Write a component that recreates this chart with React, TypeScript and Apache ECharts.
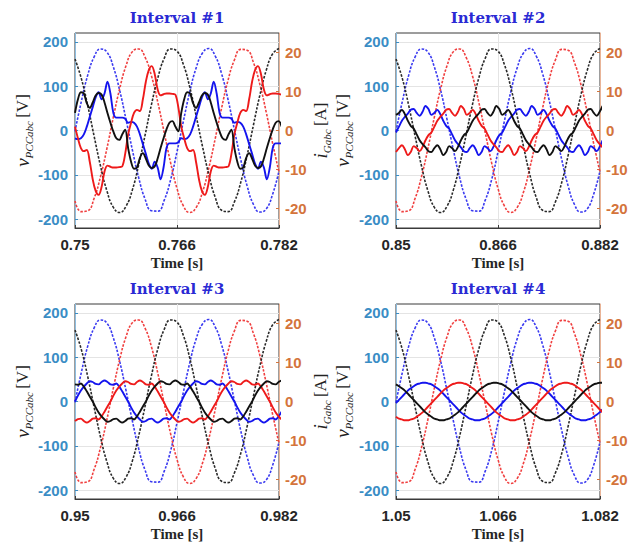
import React, { useEffect, useRef } from 'react';
import * as echarts from 'echarts';

// ---------- data ----------
const panelStarts = [0.75, 0.85, 0.95, 1.05];
const panelTitles = ['Interval #1', 'Interval #2', 'Interval #3', 'Interval #4'];
const xTickValues = [
  [0.75, 0.766, 0.782],
  [0.85, 0.866, 0.882],
  [0.95, 0.966, 0.982],
  [1.05, 1.066, 1.082],
];
const vTicks = [-200, -100, 0, 100, 200];
const iTicks = [-20, -10, 0, 10, 20];

// voltage samples, every 1 ms from the start of each interval (same in all intervals)
const tv_ms = [0, 1, 2, 3, 4, 5, 6, 7, 8, 9, 10, 11, 12, 13, 14, 15, 16, 17, 18, 19, 20, 21, 22, 23, 24, 25, 26, 27, 28, 29, 30, 31, 32];
const vBlue = [-2, 66, 125, 166, 184, 177, 144, 91, 25, -44, -107, -155, -181, -182, -157, -111, -48, 21, 87, 141, 175, 185, 168, 128, 70, 2, -66, -125, -167, -184, -177, -144, -91];
const vRed = [-159, -183, -181, -153, -104, -41, 29, 94, 146, 178, 184, 165, 123, 63, -5, -73, -131, -170, -185, -174, -139, -84, -18, 51, 113, 159, 183, 181, 153, 104, 41, -29, -94];
const vBlack = [161, 117, 56, -13, -80, -136, -173, -185, -171, -134, -77, -10, 59, 119, 163, 184, 179, 149, 98, 33, -36, -100, -151, -180, -183, -161, -117, -56, 13, 80, 136, 173, 185];

// current samples (ms from the start of each interval)
const ti_ms = [0, 0.463, 0.926, 1.389, 1.852, 2.315, 2.778, 3.241, 3.704, 4.167, 4.63, 5.093, 5.556, 6.019, 6.481, 6.944, 7.407, 7.87, 8.333, 8.796, 9.259, 9.722, 10.185, 10.648, 11.111, 11.574, 12.037, 12.5, 12.963, 13.426, 13.889, 14.352, 14.815, 15.278, 15.741, 16.204, 16.667, 17.13, 17.593, 18.056, 18.519, 18.981, 19.444, 19.907, 20.37, 20.833, 21.296, 21.759, 22.222, 22.685, 23.148, 23.611, 24.074, 24.537, 25, 25.463, 25.926, 26.389, 26.852, 27.315, 27.778, 28.241, 28.704, 29.167, 29.63, 30.093, 30.556, 31.019, 31.481, 31.944, 32.407];

const iBlue1 = [-2.0, -2.2, -2.0, -1.0, 1.0, 3.5, 6.0, 8.5, 9.8, 8.0, 9.5, 12.5, 9.5, 4.5, 3.3, 3.3, 3.3, 3.0, 2.0, 2.2, 2.0, 1.0, -1.0, -3.5, -6.0, -8.5, -9.8, -8.0, -9.5, -12.5, -9.5, -4.5, -3.3, -3.3, -3.3, -3.0,
  -2.0, -2.2, -2.0, -1.0, 1.0, 3.5, 6.0, 8.5, 9.8, 8.0, 9.5, 12.5, 9.5, 4.5, 3.3, 3.3, 3.3, 3.0, 2.0, 2.2, 2.0, 1.0, -1.0, -3.5, -6.0, -8.5, -9.8, -8.0, -9.5, -12.5, -9.5, -4.5, -3.3, -3.3, -3.3];
const iRed1 = [1.0, -2.0, -4.5, -5.3, -5.0, -8.0, -12.5, -15.5, -16.5, -14.5, -10.5, -9.0, -9.3, -9.5, -9.5, -9.4, -9.2, -6.0, -1.0, 2.0, 4.5, 5.3, 5.0, 8.0, 12.5, 15.5, 16.5, 14.5, 10.5, 9.0, 9.3, 9.5, 9.5, 9.4, 9.2, 6.0,
  1.0, -2.0, -4.5, -5.3, -5.0, -8.0, -12.5, -15.5, -16.5, -14.5, -10.5, -9.0, -9.3, -9.5, -9.5, -9.4, -9.2, -6.0, -1.0, 2.0, 4.5, 5.3, 5.0, 8.0, 12.5, 15.5, 16.5, 14.5, 10.5, 9.0, 9.3, 9.5, 9.5, 9.4, 9.2];
const iBlack1 = [4.5, 8.0, 9.8, 9.5, 7.0, 5.8, 7.2, 9.0, 9.6, 9.2, 7.2, 4.5, 2.0, -0.3, -2.0, -2.4, -1.0, 0.2, -4.5, -8.0, -9.8, -9.5, -7.0, -5.8, -7.2, -9.0, -9.6, -9.2, -7.2, -4.5, -2.0, 0.3, 2.0, 2.4, 1.0, -0.2,
  4.5, 8.0, 9.8, 9.5, 7.0, 5.8, 7.2, 9.0, 9.6, 9.2, 7.2, 4.5, 2.0, -0.3, -2.0, -2.4, -1.0, 0.2, -4.5, -8.0, -9.8, -9.5, -7.0, -5.8, -7.2, -9.0, -9.6, -9.2, -7.2, -4.5, -2.0, 0.3, 2.0, 2.4, 1.0];

const iBlue2 = [-0.5, 1.0, 2.5, 3.5, 4.3, 5.3, 5.5, 4.5, 3.8, 4.8, 6.3, 5.5, 4.0, 4.5, 5.3, 4.2, 2.5, 1.2, 0.5, -1.0, -2.5, -3.5, -4.3, -5.3, -5.5, -4.5, -3.8, -4.8, -6.3, -5.5, -4.0, -4.5, -5.3, -4.2, -2.5, -1.2,
  -0.5, 1.0, 2.5, 3.5, 4.3, 5.3, 5.5, 4.5, 3.8, 4.8, 6.3, 5.5, 4.0, 4.5, 5.3, 4.2, 2.5, 1.2, 0.5, -1.0, -2.5, -3.5, -4.3, -5.3, -5.5, -4.5, -3.8, -4.8, -6.3, -5.5, -4.0, -4.5, -5.3, -4.2, -2.5];
const iRed2 = [-5.5, -4.5, -3.8, -4.8, -6.3, -5.5, -4.0, -4.5, -5.3, -4.2, -2.5, -1.2, -0.5, 1.0, 2.5, 3.5, 4.3, 5.3, 5.5, 4.5, 3.8, 4.8, 6.3, 5.5, 4.0, 4.5, 5.3, 4.2, 2.5, 1.2, 0.5, -1.0, -2.5, -3.5, -4.3, -5.3,
  -5.5, -4.5, -3.8, -4.8, -6.3, -5.5, -4.0, -4.5, -5.3, -4.2, -2.5, -1.2, -0.5, 1.0, 2.5, 3.5, 4.3, 5.3, 5.5, 4.5, 3.8, 4.8, 6.3, 5.5, 4.0, 4.5, 5.3, 4.2, 2.5, 1.2, 0.5, -1.0, -2.5, -3.5, -4.3];
const iBlack2 = [4.0, 4.5, 5.3, 4.2, 2.5, 1.2, 0.5, -1.0, -2.5, -3.5, -4.3, -5.3, -5.5, -4.5, -3.8, -4.8, -6.3, -5.5, -4.0, -4.5, -5.3, -4.2, -2.5, -1.2, -0.5, 1.0, 2.5, 3.5, 4.3, 5.3, 5.5, 4.5, 3.8, 4.8, 6.3, 5.5,
  4.0, 4.5, 5.3, 4.2, 2.5, 1.2, 0.5, -1.0, -2.5, -3.5, -4.3, -5.3, -5.5, -4.5, -3.8, -4.8, -6.3, -5.5, -4.0, -4.5, -5.3, -4.2, -2.5, -1.2, -0.5, 1.0, 2.5, 3.5, 4.3, 5.3, 5.5, 4.5, 3.8, 4.8, 6.3];

const iBlue3 = [0.0, 1.5, 2.8, 3.8, 4.6, 5.2, 5.0, 4.5, 4.4, 5.0, 5.4, 5.0, 4.4, 4.3, 4.6, 3.8, 2.6, 1.3, 0.0, -1.5, -2.8, -3.8, -4.6, -5.2, -5.0, -4.5, -4.4, -5.0, -5.4, -5.0, -4.4, -4.3, -4.6, -3.8, -2.6, -1.3,
  0.0, 1.5, 2.8, 3.8, 4.6, 5.2, 5.0, 4.5, 4.4, 5.0, 5.4, 5.0, 4.4, 4.3, 4.6, 3.8, 2.6, 1.3, 0.0, -1.5, -2.8, -3.8, -4.6, -5.2, -5.0, -4.5, -4.4, -5.0, -5.4, -5.0, -4.4, -4.3, -4.6, -3.8, -2.6];
const iRed3 = [-5.0, -4.5, -4.4, -5.0, -5.4, -5.0, -4.4, -4.3, -4.6, -3.8, -2.6, -1.3, 0.0, 1.5, 2.8, 3.8, 4.6, 5.2, 5.0, 4.5, 4.4, 5.0, 5.4, 5.0, 4.4, 4.3, 4.6, 3.8, 2.6, 1.3, 0.0, -1.5, -2.8, -3.8, -4.6, -5.2,
  -5.0, -4.5, -4.4, -5.0, -5.4, -5.0, -4.4, -4.3, -4.6, -3.8, -2.6, -1.3, 0.0, 1.5, 2.8, 3.8, 4.6, 5.2, 5.0, 4.5, 4.4, 5.0, 5.4, 5.0, 4.4, 4.3, 4.6, 3.8, 2.6, 1.3, 0.0, -1.5, -2.8, -3.8, -4.6];
const iBlack3 = [4.4, 4.3, 4.6, 3.8, 2.6, 1.3, 0.0, -1.5, -2.8, -3.8, -4.6, -5.2, -5.0, -4.5, -4.4, -5.0, -5.4, -5.0, -4.4, -4.3, -4.6, -3.8, -2.6, -1.3, 0.0, 1.5, 2.8, 3.8, 4.6, 5.2, 5.0, 4.5, 4.4, 5.0, 5.4, 5.0,
  4.4, 4.3, 4.6, 3.8, 2.6, 1.3, 0.0, -1.5, -2.8, -3.8, -4.6, -5.2, -5.0, -4.5, -4.4, -5.0, -5.4, -5.0, -4.4, -4.3, -4.6, -3.8, -2.6, -1.3, 0.0, 1.5, 2.8, 3.8, 4.6, 5.2, 5.0, 4.5, 4.4, 5.0, 5.4];

const iBlue4 = [-0.4, 0.4, 1.2, 2.0, 2.8, 3.4, 3.9, 4.4, 4.6, 4.8, 4.8, 4.6, 4.4, 3.9, 3.4, 2.8, 2.0, 1.2, 0.4, -0.4, -1.2, -2.0, -2.8, -3.4, -3.9, -4.4, -4.6, -4.8, -4.8, -4.6, -4.4, -3.9, -3.4, -2.8, -2.0, -1.2,
  -0.4, 0.4, 1.2, 2.0, 2.8, 3.4, 3.9, 4.4, 4.6, 4.8, 4.8, 4.6, 4.4, 3.9, 3.4, 2.8, 2.0, 1.2, 0.4, -0.4, -1.2, -2.0, -2.8, -3.4, -3.9, -4.4, -4.6, -4.8, -4.8, -4.6, -4.4, -3.9, -3.4, -2.8, -2.0];
const iRed4 = [-3.9, -4.4, -4.6, -4.8, -4.8, -4.6, -4.4, -3.9, -3.4, -2.8, -2.0, -1.2, -0.4, 0.4, 1.2, 2.0, 2.8, 3.4, 3.9, 4.4, 4.6, 4.8, 4.8, 4.6, 4.4, 3.9, 3.4, 2.8, 2.0, 1.2, 0.4, -0.4, -1.2, -2.0, -2.8, -3.4,
  -3.9, -4.4, -4.6, -4.8, -4.8, -4.6, -4.4, -3.9, -3.4, -2.8, -2.0, -1.2, -0.4, 0.4, 1.2, 2.0, 2.8, 3.4, 3.9, 4.4, 4.6, 4.8, 4.8, 4.6, 4.4, 3.9, 3.4, 2.8, 2.0, 1.2, 0.4, -0.4, -1.2, -2.0, -2.8];
const iBlack4 = [4.4, 3.9, 3.4, 2.8, 2.0, 1.2, 0.4, -0.4, -1.2, -2.0, -2.8, -3.4, -3.9, -4.4, -4.6, -4.8, -4.8, -4.6, -4.4, -3.9, -3.4, -2.8, -2.0, -1.2, -0.4, 0.4, 1.2, 2.0, 2.8, 3.4, 3.9, 4.4, 4.6, 4.8, 4.8, 4.6,
  4.4, 3.9, 3.4, 2.8, 2.0, 1.2, 0.4, -0.4, -1.2, -2.0, -2.8, -3.4, -3.9, -4.4, -4.6, -4.8, -4.8, -4.6, -4.4, -3.9, -3.4, -2.8, -2.0, -1.2, -0.4, 0.4, 1.2, 2.0, 2.8, 3.4, 3.9, 4.4, 4.6, 4.8, 4.8];

const currents = [
  { blue: iBlue1, red: iRed1, black: iBlack1 },
  { blue: iBlue2, red: iRed2, black: iBlack2 },
  { blue: iBlue3, red: iRed3, black: iBlack3 },
  { blue: iBlue4, red: iRed4, black: iBlack4 },
];

// ---------- styling / layout ----------
const LAYOUT = [
  { left: 75, top: 33, vGap: 38, showI: true },
  { left: 396, top: 33, vGap: 42, showI: false },
  { left: 75, top: 304, vGap: 38, showI: true },
  { left: 396, top: 304, vGap: 42, showI: false },
];
const GW = 204;
const GH = 195;
const C_LEFT = '#3a8dc5';
const C_RIGHT = '#d4743b';
const C_GRID = '#e4e4e4';
const COLORS = { blue: '#1414ee', red: '#ee1a1a', black: '#111111' };
const VCOLORS = { blue: '#3a3af0', red: '#f04040', black: '#2a2a2a' };
const SANS = '"Liberation Sans", Arial, sans-serif';
const SERIF = '"Liberation Serif", "Times New Roman", serif';
const TITLE_SERIF = '"DejaVu Serif", serif';

const nameRich = {
  m: { fontFamily: SERIF, fontStyle: 'italic', fontSize: 19, color: '#222', lineHeight: 24, verticalAlign: 'middle' },
  s: { fontFamily: SERIF, fontStyle: 'italic', fontSize: 11, color: '#222', lineHeight: 11, verticalAlign: 'bottom' },
  u: { fontFamily: SERIF, fontSize: 17, color: '#222', lineHeight: 24, verticalAlign: 'middle' },
};

function fmt(v: number) {
  return String(Number(v.toFixed(3)));
}

function buildOption() {
  const grid: any[] = [];
  const xAxis: any[] = [];
  const yAxis: any[] = [];
  const series: any[] = [];
  const graphic: any[] = [];

  LAYOUT.forEach((p, i) => {
    const ticks = xTickValues[i];
    grid.push({ left: p.left, top: p.top, width: GW, height: GH, show: true, borderColor: '#3a3a3a', borderWidth: 1, backgroundColor: '#fff' });
    xAxis.push({
      gridIndex: i, type: 'value', min: ticks[0], max: ticks[ticks.length - 1],
      axisLine: { show: true, onZero: false, lineStyle: { color: '#3a3a3a', width: 1 } },
      axisTick: { show: true, inside: true, length: 3, customValues: ticks, lineStyle: { color: '#3a3a3a' } },
      axisLabel: { customValues: ticks, formatter: (v: number) => fmt(v), color: '#262626', fontWeight: 'bold', fontSize: 15, fontFamily: SANS, margin: 9 },
      splitLine: { show: true, lineStyle: { color: C_GRID, width: 1 } },
      name: 'Time [s]', nameLocation: 'middle', nameGap: 27,
      nameTextStyle: { fontFamily: SERIF, fontWeight: 'bold', fontSize: 15, color: '#262626' },
    });
    yAxis.push({
      gridIndex: i, type: 'value', position: 'left', min: -220, max: 220,
      axisLine: { show: true, onZero: false, lineStyle: { color: '#8cbde0', width: 1 } },
      axisTick: { show: true, inside: true, length: 3, customValues: vTicks, lineStyle: { color: C_LEFT } },
      axisLabel: { customValues: vTicks, color: C_LEFT, fontWeight: 'bold', fontSize: 15, fontFamily: SANS, margin: 7 },
      splitLine: { show: true, lineStyle: { color: C_GRID, width: 1 } },
      name: '{m|v}{s|PCCabc} {u|[V]}', nameLocation: 'middle', nameGap: p.vGap, nameRotate: 90,
      nameTextStyle: { rich: nameRich },
    });
    yAxis.push({
      gridIndex: i, type: 'value', position: 'right', min: -25, max: 25,
      axisLine: { show: true, onZero: false, lineStyle: { color: '#e9b497', width: 1 } },
      axisTick: { show: true, inside: true, length: 3, customValues: iTicks, lineStyle: { color: C_RIGHT } },
      axisLabel: { customValues: iTicks, color: C_RIGHT, fontWeight: 'bold', fontSize: 15, fontFamily: SANS, margin: 6 },
      splitLine: { show: false },
      name: p.showI ? '{m|i}{s|Gabc} {u|[A]}' : '', nameLocation: 'middle', nameGap: 27, nameRotate: 90,
      nameTextStyle: { rich: nameRich },
    });

    const start = panelStarts[i];
    const volt: [string, number[]][] = [['blue', vBlue], ['red', vRed], ['black', vBlack]];
    volt.forEach(([c, arr]) => {
      series.push({
        type: 'line', xAxisIndex: i, yAxisIndex: 2 * i, symbol: 'none', smooth: true, clip: true, silent: true, z: 2,
        lineStyle: { color: (VCOLORS as any)[c], width: 1.6, type: [2.5, 1.5] },
        data: tv_ms.map((t, k) => [start + t / 1000, arr[k]]),
      });
    });
    const cur = currents[i] as any;
    ['blue', 'red', 'black'].forEach((c) => {
      const arr: number[] = cur[c];
      series.push({
        type: 'line', xAxisIndex: i, yAxisIndex: 2 * i + 1, symbol: 'none', smooth: 0.35, clip: true, silent: true, z: 3,
        lineStyle: { color: (COLORS as any)[c], width: 1.9 },
        data: ti_ms.map((t, k) => [start + t / 1000, arr[k]]),
      });
    });

    graphic.push({
      type: 'text', x: p.left + GW / 2, y: p.top - 15,
      style: {
        text: panelTitles[i], fill: '#2a2ad4', font: `bold 15px ${TITLE_SERIF}`,
        textAlign: 'center', textVerticalAlign: 'middle', align: 'center', verticalAlign: 'middle',
      },
    });
  });

  return { animation: false, backgroundColor: '#fff', grid, xAxis, yAxis, series, graphic };
}

export default function App() {
  const ref = useRef<HTMLDivElement>(null);
  useEffect(() => {
    if (!ref.current) return;
    const chart = echarts.init(ref.current, undefined, { renderer: 'svg' });
    chart.setOption(buildOption() as any);
    return () => chart.dispose();
  }, []);
  return <div ref={ref} style={{ position: 'fixed', left: 0, top: 0, width: 642, height: 542, background: '#fff' }} />;
}
